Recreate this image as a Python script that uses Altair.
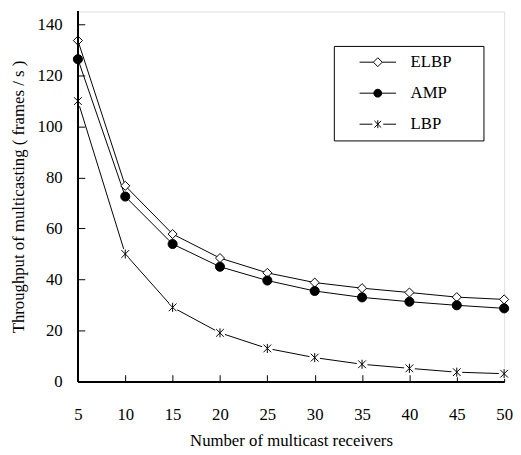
import altair as alt
import pandas as pd

receivers = [5, 10, 15, 20, 25, 30, 35, 40, 45, 50]
series_names = ["ELBP", "AMP", "LBP"]
elbp = [133.6, 76.7, 57.8, 48.4, 42.6, 38.8, 36.6, 34.9, 33.1, 32.2]
amp = [126.3, 72.5, 53.9, 45.0, 39.6, 35.5, 33.0, 31.3, 29.9, 28.7]
lbp = [109.9, 50.0, 29.1, 19.1, 13.0, 9.4, 6.8, 5.2, 3.7, 3.1]
x_ticks = [5, 10, 15, 20, 25, 30, 35, 40, 45, 50]
y_ticks = [0, 20, 40, 60, 80, 100, 120, 140]

rows = []
for name, vals in zip(series_names, [elbp, amp, lbp]):
    for xv, yv in zip(receivers, vals):
        rows.append({"series": name, "x": xv, "y": yv})
df = pd.DataFrame(rows)

FONT = "Liberation Serif"
W, H = 433, 376

# marker shapes (unit square paths)
ASTER = "M-0.85,-0.85L0.85,0.85M-0.85,0.85L0.85,-0.85M0,-1L0,1"

# legend composite symbols (line + marker), built in px then scaled to units
LEG_SIZE = 2948
u = LEG_SIZE ** 0.5 / 2
mc = 8.65
def p(v):
    return f"{v / u:.3f}"

leg_elbp = (f"M{p(-9.85)},0L{p(mc-4.5)},0M{p(mc+4.5)},0L{p(27.15)},0"
            f"M{p(mc-4.5)},0L{p(mc)},{p(-4.5)}L{p(mc+4.5)},0L{p(mc)},{p(4.5)}Z")
leg_amp = (f"M{p(-9.85)},0L{p(27.15)},0"
           f"M{p(mc+4)},0A{p(4)},{p(4)} 0 1,1 {p(mc-4)},0A{p(4)},{p(4)} 0 1,1 {p(mc+4)},0Z")
leg_lbp = (f"M{p(-9.85)},0L{p(mc-5.5)},0M{p(mc+5.5)},0L{p(27.15)},0"
           f"M{p(mc-3.4)},{p(-3.4)}L{p(mc+3.4)},{p(3.4)}M{p(mc-3.4)},{p(3.4)}L{p(mc+3.4)},{p(-3.4)}"
           f"M{p(mc)},{p(-4)}L{p(mc)},{p(4)}")

# blank filler (not trimmed as whitespace) to widen the legend frame on the right
FILL = "\u2800" * 2

xs = alt.Scale(domain=[5, 50], nice=False, zero=False)
ys = alt.Scale(domain=[0, 145], nice=False)

xaxis = alt.Axis(values=x_ticks, offset=-7, tickSize=7, domain=False, grid=False,
                 labelPadding=25, labelFont=FONT, labelFontSize=17, labelColor="black",
                 tickColor="black", title="Number of multicast receivers", titleFont=FONT,
                 titleFontSize=17, titleFontWeight="normal", titleColor="black", titlePadding=11,
                 labelFlush=False)
yaxis = alt.Axis(values=y_ticks, offset=-7, tickSize=7, domain=False, grid=False,
                 labelPadding=16, labelFont=FONT, labelFontSize=17, labelColor="black",
                 tickColor="black", title="Throughput of multicasting  ( frames / s )",
                 titleFont=FONT, titleFontSize=17, titleFontWeight="normal", titleColor="black",
                 titlePadding=10, labelFlush=False)

base = alt.Chart(df)
X = alt.X("x:Q", scale=xs, axis=xaxis)
Y = alt.Y("y:Q", scale=ys, axis=yaxis)

lines = base.mark_line(color="black", strokeWidth=1).encode(x=X, y=Y, detail="series:N")

halo = base.transform_filter("datum.series == 'LBP'").mark_point(
    shape="circle", filled=True, fill="white", opacity=1, size=121
).encode(x=X, y=Y)

points = base.mark_point(stroke="black", strokeWidth=1, size=85, opacity=1).encode(
    x=X, y=Y,
    shape=alt.Shape("series:N", scale=alt.Scale(domain=series_names, range=["diamond", "circle", ASTER]), legend=None),
    fill=alt.Fill("series:N", scale=alt.Scale(domain=series_names, range=["white", "black", "white"]), legend=None),
)

leg = alt.Legend(title=None, orient="none", legendX=260, legendY=35, strokeColor="black",
                 padding=8, symbolSize=LEG_SIZE, clipHeight=17, rowPadding=13.5, labelOffset=14,
                 labelFont=FONT, labelFontSize=17, labelColor="black", symbolStrokeWidth=1,
                 symbolStrokeColor="black", labelExpr=f"datum.label + '{FILL}'")

legend_layer = base.transform_filter("false").mark_point(strokeWidth=1, opacity=1).encode(
    x=X, y=Y,
    shape=alt.Shape("series:N", scale=alt.Scale(domain=series_names, range=[leg_elbp, leg_amp, leg_lbp]), legend=leg),
    fill=alt.Fill("series:N", scale=alt.Scale(domain=series_names, range=["white", "black", "white"]), legend=leg),
    stroke=alt.Stroke("series:N", scale=alt.Scale(domain=series_names, range=["black", "black", "black"]), legend=leg),
)

spine = base.mark_rule(color="black", strokeWidth=1.5).encode(y=alt.datum(0))
spine_l = base.mark_rule(color="black", strokeWidth=1.5).encode(x=alt.datum(5))

chart = alt.layer(lines, halo, points, legend_layer, spine, spine_l).resolve_scale(
    shape="independent", fill="independent", stroke="independent"
).properties(
    width=W, height=H,
    autosize=alt.AutoSizeParams(type="none"),
    padding={"left": 71, "top": 0, "right": 9, "bottom": 70},
).configure_view(stroke="#333", strokeWidth=1).configure(background="white")

chart.save("out.html", embed_options={"renderer": "svg", "actions": False})
